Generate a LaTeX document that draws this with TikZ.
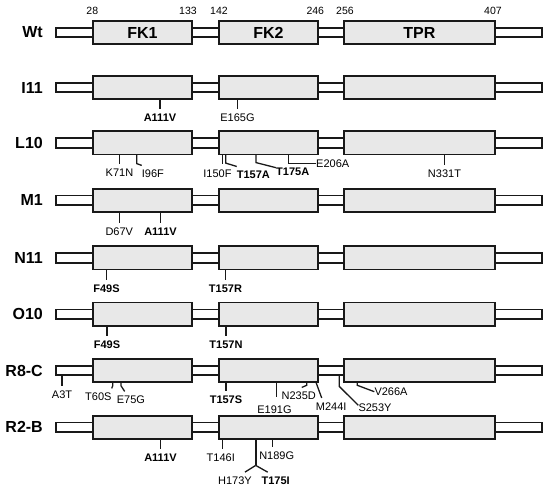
\documentclass[tikz,border=0pt]{standalone}
\usepackage{fontspec}
\setmainfont{Liberation Sans}

\tikzset{
  bar/.style={draw=black!90, fill=white, line width=1.8pt, minimum height=9.4pt, inner sep=0pt, outer sep=0pt},
  dom/.style={draw=black!90, fill=gray!18, line width=1.8pt, minimum height=23.2pt, inner sep=0pt, outer sep=0pt},
  domtxt/.style={font=\fontsize{16}{18}\selectfont\bfseries, inner sep=0pt},
  rowlab/.style={anchor=east, font=\fontsize{16}{18}\selectfont\bfseries, inner sep=0pt},
  num/.style={font=\fontsize{10.5}{12}\selectfont, inner sep=0pt},
  mut/.style={font=\fontsize{11}{13}\selectfont, inner xsep=0pt, inner ysep=4.5pt},
  bmut/.style={mut, font=\fontsize{11}{13}\selectfont\bfseries},
  tick/.style={line width=1.3pt, black!90},
}

\begin{document}
\begin{tikzpicture}[x=1pt, y=-1pt]
\useasboundingbox (0,0) rectangle (550,489);

% Proteinas
\foreach \r/\yy/\txt in {wt/32.5/Wt, i11/87.5/I11, l10/143/L10, m1/200.3/M1,
    n11/258/N11, o10/314.2/O10, r8c/370.7/R8-C, r2b/427.3/R2-B}{
  \node[bar, minimum width=485.7pt] (bar-\r) at (298.75,\yy) {};
  \node[dom, minimum width=98.4pt] (fk1-\r) at (142.4,\yy) {};
  \node[dom, minimum width=98.4pt] (fk2-\r) at (268.5,\yy) {};
  \node[dom, minimum width=150.5pt] (tpr-\r) at (419.4,\yy) {};
  \node[rowlab] (lab-\r) at (43,\yy) {\txt};
}

% Dominios
\node[domtxt] (t-fk1) at (fk1-wt) {FK1};
\node[domtxt] (t-fk2) at (fk2-wt) {FK2};
\node[domtxt] (t-tpr) at (tpr-wt) {TPR};

% Limites
\node[num] (n28) at (92.3,10.5) {28};
\node[num] (n133) at (188,10.5) {133};
\node[num] (n142) at (219,10.5) {142};
\node[num] (n246) at (315.3,10.5) {246};
\node[num] (n256) at (345,10.5) {256};
\node[num] (n407) at (493,10.5) {407};

% I11
\node[bmut] (i11-a111v) at (160,117.3) {A111V};
\node[mut] (i11-e165g) at (237.5,117.3) {E165G};
\draw[tick] (fk1-i11.south -| i11-a111v.north) -- (i11-a111v.north);
\draw[tick] (fk2-i11.south -| i11-e165g.north) -- (i11-e165g.north);

% L10
\node[mut] (l10-k71n) at (119.5,172.7) {K71N};
\node[mut, anchor=west] (l10-i96f) at (141.7,174) {I96F};
\node[mut] (l10-i150f) at (217.5,173.3) {I150F};
\node[bmut, anchor=west] (l10-t157a) at (236.7,175) {T157A};
\node[bmut, anchor=west] (l10-t175a) at (276,171.7) {T175A};
\node[mut, anchor=west] (l10-e206a) at (316,163.5) {E206A};
\node[mut] (l10-n331t) at (444.5,173.3) {N331T};
\draw[tick] (fk1-l10.south -| l10-k71n.north) -- (l10-k71n.north);
\draw[tick] ([xshift=-5.7pt]fk1-l10.south) -- ++(0,9) -- (l10-i96f.north west);
\draw[tick] ([xshift=-46.2pt]fk2-l10.south) -- ++(0,9.5);
\draw[tick] ([xshift=-42.8pt]fk2-l10.south) -- ++(0,8.5) -- (l10-t157a.north west);
\draw[tick] ([xshift=-12.5pt]fk2-l10.south) -- ++(0,8) -- ([yshift=4pt]l10-t175a.west);
\draw[tick] ([xshift=19.8pt]fk2-l10.south) |- (l10-e206a.west);
\draw[tick] (tpr-l10.south -| l10-n331t.north) -- (l10-n331t.north);

% M1
\node[mut] (m1-d67v) at (119.3,231.7) {D67V};
\node[bmut] (m1-a111v) at (160.5,231.7) {A111V};
\draw[tick] (fk1-m1.south -| m1-d67v.north) -- (m1-d67v.north);
\draw[tick] (fk1-m1.south -| m1-a111v.north) -- (m1-a111v.north);

% N11
\node[bmut] (n11-f49s) at (106.5,288.3) {F49S};
\node[bmut] (n11-t157r) at (225.5,288.3) {T157R};
\draw[tick] (fk1-n11.south -| n11-f49s.north) -- (n11-f49s.north);
\draw[tick] (fk2-n11.south -| n11-t157r.north) -- (n11-t157r.north);

% O10
\node[bmut] (o10-f49s) at (107,345) {F49S};
\node[bmut] (o10-t157n) at (226,345) {T157N};
\draw[tick] (fk1-o10.south -| o10-f49s.north) -- (o10-f49s.north);
\draw[tick] (fk2-o10.south -| o10-t157n.north) -- (o10-t157n.north);

% R8-C
\node[mut] (r8c-a3t) at (62,394.3) {A3T};
\node[mut, anchor=east] (r8c-t60s) at (111.7,397) {T60S};
\node[mut, anchor=west] (r8c-e75g) at (116.7,400) {E75G};
\node[bmut] (r8c-t157s) at (226,400) {T157S};
\node[mut] (r8c-e191g) at (274.5,409.3) {E191G};
\node[mut] (r8c-n235d) at (298.8,396) {N235D};
\node[mut, anchor=west] (r8c-m244i) at (315.7,406.5) {M244I};
\node[mut, anchor=west] (r8c-s253y) at (358.3,407.3) {S253Y};
\node[mut, anchor=west] (r8c-v266a) at (374.3,391.7) {V266A};
\draw[tick] (bar-r8c.south -| r8c-a3t.north) -- (r8c-a3t.north);
\draw[tick] ([xshift=-29.7pt]fk1-r8c.south) -- ++(0,3.5) -- (r8c-t60s.north east);
\draw[tick] ([xshift=-21.4pt]fk1-r8c.south) -- ++(0,3.5) -- ([xshift=8pt]r8c-e75g.north west);
\draw[tick] (fk2-r8c.south -| r8c-t157s.north) -- (r8c-t157s.north);
\draw[tick] ([xshift=8.2pt]fk2-r8c.south) -- ++(0,15);
\draw[tick] ([xshift=38.2pt]fk2-r8c.south) -- ++(0,3) -- ([xshift=3pt]r8c-n235d.north);
\draw[tick] ([xshift=47.5pt]fk2-r8c.south) -- ([xshift=6pt]r8c-m244i.north west);
\draw[tick] ([xshift=40.5pt]bar-r8c.south) -- ++(0,11) -- ([yshift=2pt]r8c-s253y.west);
\draw[tick] ([xshift=-62.1pt]tpr-r8c.south) -- ++(0,3) -- (r8c-v266a.west);

% R2-B
\node[bmut] (r2b-a111v) at (160.5,457.3) {A111V};
\node[mut] (r2b-t146i) at (220.8,457.7) {T146I};
\node[mut] (r2b-n189g) at (276.7,456) {N189G};
\node[mut] (r2b-h173y) at (235,480.7) {H173Y};
\node[bmut] (r2b-t175i) at (275.7,480.7) {T175I};
\draw[tick] (fk1-r2b.south -| r2b-a111v.north) -- (r2b-a111v.north);
\draw[tick] ([xshift=-46.2pt]fk2-r2b.south) -- ++(0,10.5);
\draw[tick] ([xshift=4.2pt]fk2-r2b.south) -- ++(0,8.5);
\draw[tick, line width=2.4pt] ([xshift=-12.8pt]fk2-r2b.south) -- ++(0,26.5) coordinate (r2b-fork);
\draw[tick] (r2b-fork) -- ([xshift=10pt]r2b-h173y.north);
\draw[tick] (r2b-fork) -- ([xshift=-8pt]r2b-t175i.north);

\end{tikzpicture}
\end{document}
